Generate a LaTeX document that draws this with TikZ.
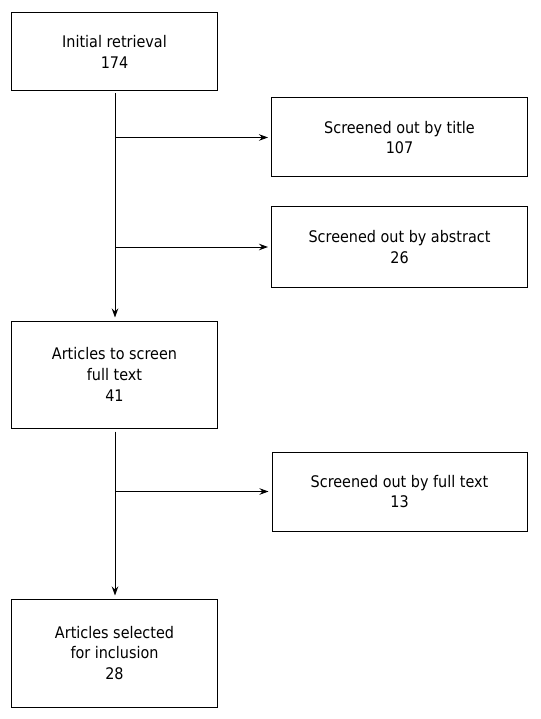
\documentclass[tikz,border=0pt]{standalone}
\usepackage{fontspec}
\setmainfont{DejaVu Sans Condensed}
\usetikzlibrary{arrows.meta}
\begin{document}
\begin{tikzpicture}[x=1pt,y=-1pt,
  box/.style={draw=black,line width=1pt,inner sep=0pt,align=center,
    font=\fontsize{16pt}{20.7pt}\selectfont},
  conn/.style={line width=1pt,-{Stealth[length=9pt,width=6.5pt]},shorten >=3pt}]
\useasboundingbox[fill=white] (0,0) rectangle (540,719);
\node[box,minimum width=206pt,minimum height=78pt] (init) at (114.5,52) {Initial retrieval\\174};
\node[box,minimum width=256pt,minimum height=79pt] (title) at (399.5,137.5) {Screened out by title\\107};
\node[box,minimum width=256pt,minimum height=80pt] (abs) at (399.5,247) {Screened out by abstract\\26};
\node[box,minimum width=206pt,minimum height=107pt] (full) at (114.5,374.5) {Articles to screen\\full text\\41};
\node[box,minimum width=255pt,minimum height=79pt] (fout) at (399.5,491.5) {Screened out by full text\\13};
\node[box,minimum width=206pt,minimum height=108pt] (incl) at (114.5,653) {Articles selected\\for inclusion\\28};
\coordinate (b1) at (115,137.5);
\coordinate (b2) at (115,247);
\coordinate (b3) at (115,491.5);
\draw[conn,shorten <=2pt] (init.south -| b1) -- (full.north -| b1);
\draw[conn] (b1) -- (title.west);
\draw[conn] (b2) -- (abs.west);
\draw[conn,shorten <=3pt] (full.south -| b3) -- (incl.north -| b3);
\draw[conn] (b3) -- (fout.west);
\end{tikzpicture}
\end{document}
